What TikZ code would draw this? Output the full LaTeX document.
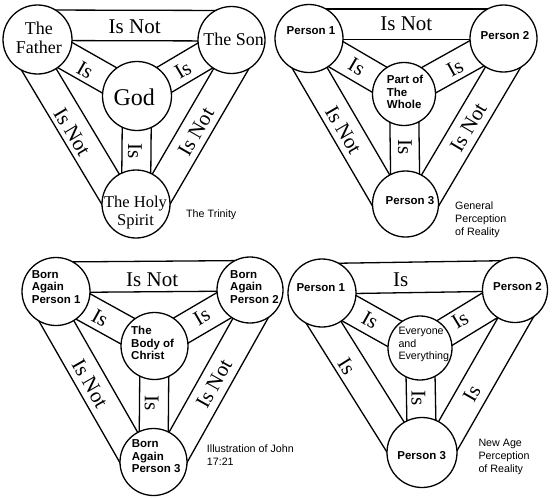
\documentclass[tikz,border=0pt]{standalone}
\usepackage{fontspec}
\setmainfont{Liberation Serif}
\setsansfont{Liberation Sans}
\usetikzlibrary{calc,backgrounds}
\begin{document}
\begin{tikzpicture}[x=1pt,y=1pt,
  circ/.style={circle,draw,fill=white,inner sep=0pt,line width=1.3pt},
  band/.style={line width=1.3pt},
  bandtxt/.style={inner sep=0pt,font=\fontsize{21}{22}\selectfont},
  trin/.style={inner sep=0pt,align=center,font=\fontsize{18}{19}\selectfont},
  boldc/.style={inner sep=0pt,font=\sffamily\bfseries\fontsize{11.5}{12.6}\selectfont},
  boldl/.style={boldc,align=left,anchor=west},
  plainl/.style={inner sep=0pt,align=left,anchor=west,font=\sffamily\fontsize{10.7}{12.3}\selectfont},
  capt/.style={inner sep=0pt,align=left,anchor=west,font=\sffamily\fontsize{10.7}{13}\selectfont},
]
\useasboundingbox (0,0) rectangle (555,-498);

% ---------- Diagram 1 : The Trinity ----------
\node[circ,minimum size=69pt] (d1a) at (37.5,-39.5) {};
\node[circ,minimum size=67pt] (d1b) at (231.5,-40) {};
\node[circ,minimum size=68pt] (d1c) at (136,-204) {};
\node[circ,minimum size=69pt] (d1g) at (137,-96) {};
\node[trin] (t1a) at (38.8,-37.5) {The\\Father};
\node[trin] (t1b) at (233.7,-39.5) {The Son};
\node[trin,font=\fontsize{24}{26}\selectfont] (t1g) at (134.3,-97) {God};
\node[trin,font=\fontsize{16.5}{18}\selectfont] (t1c) at (135.5,-213) {The Holy\\Spirit};
\node[bandtxt] (l1ab) at (134.7,-27.2) {Is Not};
\node[bandtxt,rotate=-29.6] (l1ag) at (85,-70) {Is};
\node[bandtxt,rotate=30.6] (l1bg) at (183,-70) {Is};
\node[bandtxt,rotate=-90] (l1cg) at (135,-151) {Is};
\node[bandtxt,rotate=-59] (l1ac) at (72,-132) {Is Not};
\node[bandtxt,rotate=60] (l1bc) at (196,-132) {Is Not};
\node[capt] (c1) at (186,-214.5) {The Trinity};

% ---------- Diagram 2 : General Perception ----------
\node[circ,minimum size=68pt] (d2a) at (309,-38.5) {};
\node[circ,minimum size=67pt] (d2b) at (503.5,-38.5) {};
\node[circ,minimum size=66pt] (d2c) at (405.5,-204) {};
\node[circ,minimum size=63pt] (d2g) at (404,-94) {};
\node[boldc] (t2a) at (311,-30.5) {Person 1};
\node[boldc] (t2b) at (505,-35.3) {Person 2};
\node[boldc] (t2c) at (410,-200.5) {Person 3};
\node[boldl] (t2g) at (386.7,-92.2) {Part of\\The\\Whole};
\node[bandtxt] (l2ab) at (406.3,-24.2) {Is Not};
\node[bandtxt,rotate=-30.3] (l2ag) at (356.7,-66.7) {Is};
\node[bandtxt,rotate=29.2] (l2bg) at (455,-68) {Is};
\node[bandtxt,rotate=-90] (l2cg) at (405,-146.7) {Is};
\node[bandtxt,rotate=-59.7] (l2ac) at (343.3,-130) {Is Not};
\node[bandtxt,rotate=59.4] (l2bc) at (468.3,-127.7) {Is Not};
\node[capt] (c2) at (455,-220) {General\\Perception\\of Reality};

% ---------- Diagram 3 : John 17:21 ----------
\node[circ,minimum size=68pt] (d3a) at (56,-291.5) {};
\node[circ,minimum size=66pt] (d3b) at (250,-290) {};
\node[circ,minimum size=67pt] (d3c) at (153.5,-462) {};
\node[circ,minimum size=67pt] (d3g) at (154.5,-346) {};
\node[boldl] (t3a) at (31.7,-287) {Born\\Again\\Person 1};
\node[boldl] (t3b) at (230,-287) {Born\\Again\\Person 2};
\node[boldl] (t3c) at (131.7,-456.3) {Born\\Again\\Person 3};
\node[boldl] (t3g) at (131,-343) {The\\Body of\\Christ};
\node[bandtxt] (l3ab) at (152.2,-279.7) {Is Not};
\node[bandtxt,rotate=-29] (l3ag) at (100,-318.3) {Is};
\node[bandtxt,rotate=30.4] (l3bg) at (201.7,-316.7) {Is};
\node[bandtxt,rotate=-90] (l3cg) at (151.7,-403.3) {Is};
\node[bandtxt,rotate=-60.2] (l3ac) at (90,-383.3) {Is Not};
\node[bandtxt,rotate=60.7] (l3bc) at (214,-384) {Is Not};
\node[capt] (c3) at (206.7,-455.5) {Illustration of John\\17:21};

% ---------- Diagram 4 : New Age ----------
\node[circ,minimum size=68pt] (d4a) at (322,-293) {};
\node[circ,minimum size=65pt] (d4b) at (515,-290) {};
\node[circ,minimum size=70pt] (d4c) at (422,-452.5) {};
\node[circ,minimum size=64pt] (d4g) at (420,-348) {};
\node[boldc] (t4a) at (320.8,-288) {Person 1};
\node[boldc] (t4b) at (517.5,-286.3) {Person 2};
\node[boldc] (t4c) at (421.7,-455.5) {Person 3};
\node[plainl] (t4g) at (398.3,-344.7) {Everyone\\and\\Everything};
\node[bandtxt] (l4ab) at (400.8,-279.3) {Is};
\node[bandtxt,rotate=-29.3] (l4ag) at (370,-320) {Is};
\node[bandtxt,rotate=31.4] (l4bg) at (460,-320) {Is};
\node[bandtxt,rotate=-90] (l4cg) at (418.3,-398.3) {Is};
\node[bandtxt,rotate=-57.9] (l4ac) at (346.7,-366.7) {Is};
\node[bandtxt,rotate=60.2] (l4bc) at (471.7,-393.3) {Is};
\node[capt] (c4) at (478.3,-457) {New Age\\Perception\\of Reality};

% ---------- bands ----------
\begin{scope}[on background layer]
\foreach \p in {d1,d2,d3,d4}{
  \foreach \u/\v in {a/b,b/c,c/a}{
    \foreach \d in {29.5pt,-1pt}{
      \draw[band] ($(\p\u)!\d!90:(\p\v)$) -- ($(\p\v)!\d!-90:(\p\u)$);
    }
  }
  \foreach \u in {a,b,c}{
    \foreach \d in {14.5pt,-14.5pt}{
      \draw[band] ($(\p g)!\d!90:(\p\u)$) -- ($(\p\u)!\d!-90:(\p g)$);
    }
  }
}
\end{scope}
\end{tikzpicture}
\end{document}
